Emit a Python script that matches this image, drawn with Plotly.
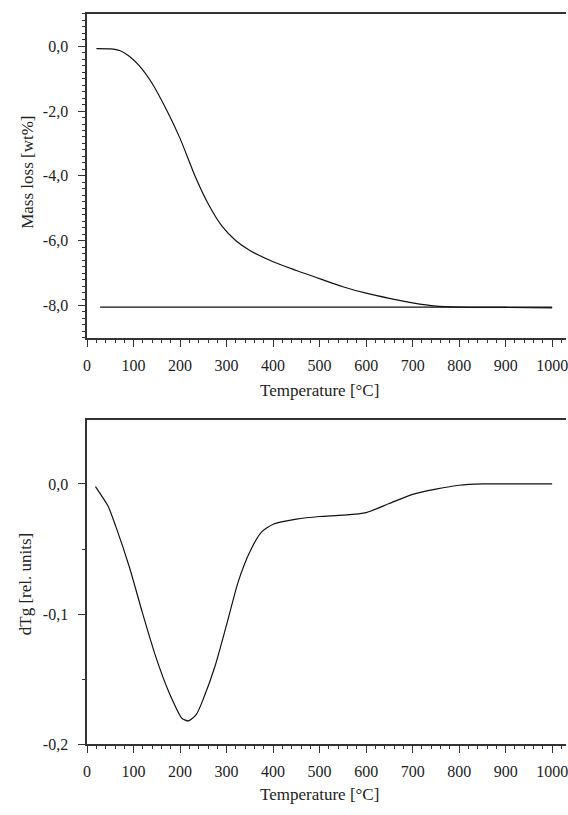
import plotly.graph_objects as go

# ---- data ----
tg_temp = [20, 50, 70, 90, 112, 140, 172, 200, 232, 260, 290, 320, 350,
           400, 450, 500, 550, 600, 650, 700, 750, 800, 900, 1000]
tg_mass = [-0.07, -0.08, -0.13, -0.3, -0.6, -1.15, -2.0, -2.85, -4.0, -4.85,
           -5.55, -6.0, -6.3, -6.65, -6.92, -7.17, -7.42, -7.62, -7.78, -7.92,
           -8.02, -8.05, -8.06, -8.07]

base_temp = [28, 1000]
base_mass = [-8.05, -8.05]

dtg_temp = [18, 45, 62, 91, 119, 147, 176, 204, 218, 235, 250, 275, 300, 325,
            350, 375, 400, 450, 500, 550, 600, 650, 700, 750, 800, 850, 900, 1000]
dtg_val = [-0.002, -0.017, -0.033, -0.064, -0.099, -0.132, -0.160, -0.180,
           -0.182, -0.177, -0.165, -0.140, -0.108, -0.075, -0.052, -0.037,
           -0.031, -0.027, -0.025, -0.024, -0.022, -0.015, -0.008, -0.004,
           -0.001, 0.0, 0.0, 0.0]

x_tickvals = [0, 100, 200, 300, 400, 500, 600, 700, 800, 900, 1000]
x_ticktext = ["0", "100", "200", "300", "400", "500", "600", "700", "800", "900", "1000"]
y1_tickvals = [0, -2, -4, -6, -8]
y1_ticktext = ["0,0", "-2,0", "-4,0", "-6,0", "-8,0"]
y2_tickvals = [0, -0.1, -0.2]
y2_ticktext = ["0,0", "-0,1", "-0,2"]

x_title = "Temperature [°C]"
y1_title = "Mass loss [wt%]"
y2_title = "dTg [rel. units]"

W, H = 568, 815
FONT = "Liberation Serif"
TXT = "#222222"
AX = "#333333"

XR = [0, 1029.8]
Y1R = [-9, 1]
Y2R = [-0.2, 0.0494]

fig = go.Figure()
fig.add_trace(go.Scatter(x=tg_temp, y=tg_mass, mode="lines",
                         line=dict(color="#111", width=1.2, shape="spline", smoothing=0.8),
                         xaxis="x", yaxis="y", showlegend=False))
fig.add_trace(go.Scatter(x=base_temp, y=base_mass, mode="lines", line=dict(color="#111", width=1.2),
                         xaxis="x", yaxis="y", showlegend=False))
fig.add_trace(go.Scatter(x=dtg_temp, y=dtg_val, mode="lines",
                         line=dict(color="#111", width=1.2, shape="spline", smoothing=0.6),
                         xaxis="x2", yaxis="y2", showlegend=False))
# dummy traces so that the minor-tick overlay axes are drawn
for xa, ya in [("x3", "y"), ("x", "y3"), ("x4", "y2"), ("x2", "y4")]:
    fig.add_trace(go.Scatter(x=[None], y=[None], mode="lines", xaxis=xa, yaxis=ya,
                             showlegend=False, hoverinfo="skip"))

left = 84 / W
xdom = [left, 1.0]
y1dom = [1 - 341.7 / H, 1 - 14 / H]
y2dom = [1 - 752.7 / H, 1 - 424.3 / H]

def xaxis_cfg(anchor):
    return dict(domain=xdom, anchor=anchor, range=XR, showgrid=False, zeroline=False,
                showline=True, linecolor=AX, linewidth=1.5, mirror=True,
                tickmode="array", tickvals=x_tickvals, ticktext=x_ticktext,
                ticks="outside", ticklen=7, tickwidth=1.2,
                tickcolor=AX, ticklabelstandoff=5, ticklabeloverflow="allow",
                tickfont=dict(family=FONT, size=16, color=TXT))

def yaxis_cfg(anchor, dom, rng, tv, tt):
    return dict(domain=dom, anchor=anchor, range=rng, showgrid=False, zeroline=False,
                showline=True, linecolor=AX, linewidth=1.5, mirror=False,
                tickmode="array", tickvals=tv, ticktext=tt,
                ticks="outside", ticklen=7, tickwidth=1.2,
                tickcolor=AX, ticklabelstandoff=7,
                tickfont=dict(family=FONT, size=16, color=TXT))

def minor_x(anchor, over):
    return dict(domain=xdom, anchor=anchor, overlaying=over, range=XR, showgrid=False,
                zeroline=False, showline=False, showticklabels=False,
                tickmode="linear", tick0=0, dtick=20, ticks="outside", ticklen=4,
                tickwidth=1, tickcolor=AX)

def minor_y(anchor, over, dom, rng, dt):
    return dict(domain=dom, anchor=anchor, overlaying=over, range=rng, showgrid=False,
                zeroline=False, showline=False, showticklabels=False,
                tickmode="linear", tick0=0, dtick=dt, ticks="outside", ticklen=4,
                tickwidth=1, tickcolor=AX)

fig.update_layout(
    width=W, height=H, margin=dict(l=0, r=0, t=0, b=0),
    paper_bgcolor="white", plot_bgcolor="white",
    xaxis=xaxis_cfg("y"),
    yaxis=yaxis_cfg("x", y1dom, Y1R, y1_tickvals, y1_ticktext),
    xaxis2=xaxis_cfg("y2"),
    yaxis2=yaxis_cfg("x2", y2dom, Y2R, y2_tickvals, y2_ticktext),
    xaxis3=minor_x("y", "x"),
    yaxis3=minor_y("x", "y", y1dom, Y1R, 0.2),
    xaxis4=minor_x("y2", "x2"),
    yaxis4=minor_y("x2", "y2", y2dom, Y2R, 0.05),
    annotations=[
        dict(text=x_title, x=319 / W, y=1 - 395 / H, xref="paper", yref="paper", showarrow=False,
             font=dict(family=FONT, size=17, color=TXT), xanchor="center", yanchor="middle"),
        dict(text=x_title, x=319 / W, y=1 - 803 / H, xref="paper", yref="paper", showarrow=False,
             font=dict(family=FONT, size=17, color=TXT), xanchor="center", yanchor="middle"),
        dict(text=y1_title, x=23 / W, y=1 - 174 / H, xref="paper", yref="paper", showarrow=False,
             textangle=-90, font=dict(family=FONT, size=17, color=TXT), xanchor="center", yanchor="middle"),
        dict(text=y2_title, x=22 / W, y=1 - 591 / H, xref="paper", yref="paper", showarrow=False,
             textangle=-90, font=dict(family=FONT, size=17, color=TXT), xanchor="center", yanchor="middle"),
    ],
)

fig.write_html("out.html")
